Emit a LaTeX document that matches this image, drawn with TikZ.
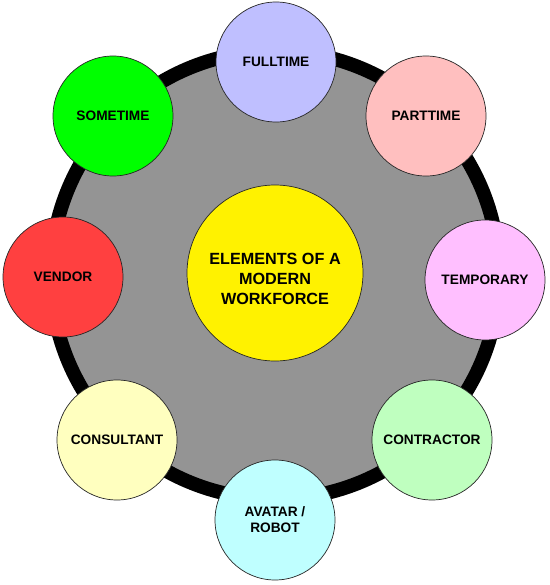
\documentclass[tikz,border=0pt]{standalone}
\usepackage{fontspec}
\setmainfont{Liberation Sans}
\begin{document}
\begin{tikzpicture}[x=1pt,y=-1pt,
  sat/.style={circle,draw=black!85,line width=0.7pt,minimum size=120pt,inner sep=0pt,
    font=\fontsize{13.7}{16}\selectfont\bfseries,align=center,text=black},
  hub/.style={circle,draw=black!85,line width=0.7pt,minimum size=176pt,inner sep=0pt,fill=yellow},
  hubtext/.style={font=\fontsize{16.2}{20}\selectfont\bfseries,align=center,inner sep=0pt}]
\useasboundingbox (0,0) rectangle (549,585);
\definecolor{ringgray}{RGB}{148,148,148}
\node[circle,draw=black,line width=14pt,fill=ringgray,minimum size=448pt,inner sep=0pt] (ring) at (275,275) {};
\node[hub] (hub) at (275,273) {};
\node[hubtext] (hubtxt) at (275,279) {ELEMENTS OF A\\MODERN\\WORKFORCE};
\node[sat,fill={rgb,255:red,191;green,191;blue,255}] (full) at (276,62) {FULLTIME};
\node[sat,fill={rgb,255:red,255;green,191;blue,191}] (part) at (426,116) {PARTTIME};
\node[sat,fill={rgb,255:red,255;green,191;blue,255}] (temp) at (485,280) {TEMPORARY};
\node[sat,fill={rgb,255:red,191;green,255;blue,191}] (contr) at (432,440) {CONTRACTOR};
\node[sat,fill={rgb,255:red,191;green,255;blue,255}] (avatar) at (275,520) {AVATAR /\\ROBOT};
\node[sat,fill={rgb,255:red,255;green,255;blue,191}] (cons) at (117,440) {CONSULTANT};
\node[sat,fill={rgb,255:red,255;green,64;blue,64}] (vendor) at (63,277) {VENDOR};
\node[sat,fill={rgb,255:red,0;green,255;blue,0}] (some) at (113,116) {SOMETIME};
\end{tikzpicture}
\end{document}
